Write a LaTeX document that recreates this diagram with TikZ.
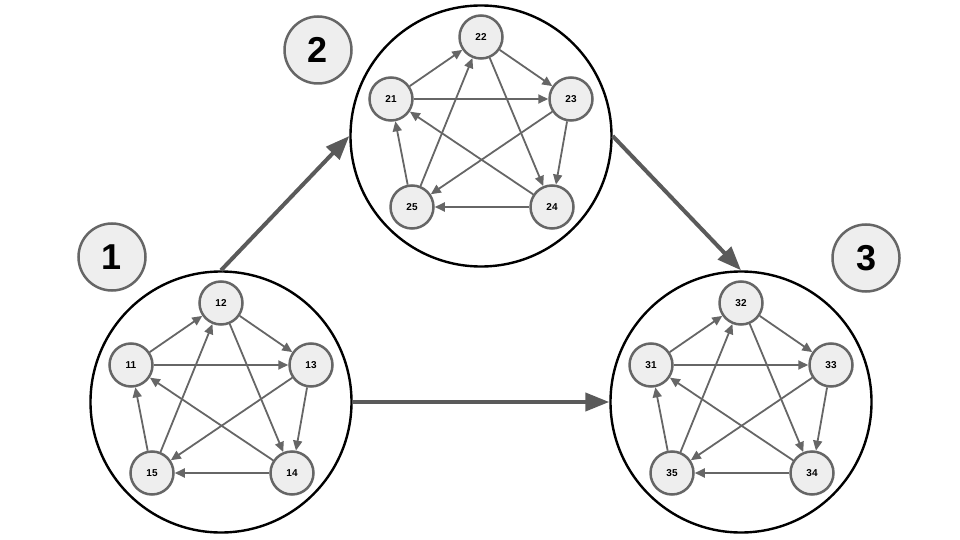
\documentclass[tikz,border=0pt]{standalone}
\usepackage{fontspec}
\setmainfont{Liberation Sans}
\usetikzlibrary{arrows.meta}
\definecolor{nodefill}{HTML}{EEEEEE}
\definecolor{nodeline}{HTML}{666666}
\definecolor{bigarrow}{HTML}{5A5A5A}
\tikzset{
    % node styles
    agent/.style={circle, draw=nodeline, fill=nodefill, line width=2.5pt,
                  minimum size=43pt, inner sep=0pt, font=\fontsize{10}{12}\selectfont\bfseries},
    group/.style={circle, draw=black, line width=2.4pt, minimum size=261pt, inner sep=0pt},
    tag/.style={circle, draw=nodeline, fill=nodefill, line width=2.5pt,
                minimum size=67pt, inner sep=0pt, font=\fontsize{36}{40}\selectfont\bfseries},
    % arrow styles
    edge/.style={-{Triangle[length=10pt,width=9pt]}, draw=nodeline, line width=1.8pt},
    flow/.style={-{Triangle[length=24pt,width=18pt]}, draw=bigarrow, line width=4pt},
}
\begin{document}
\begin{tikzpicture}[x=1pt, y=-1pt]
    \useasboundingbox (0,0) rectangle (960,540);

    % Groups with their five agents
    \foreach \g/\cx/\cy in {1/221/402, 2/481/136, 3/741/402} {
        \node[group] (c\g) at (\cx, \cy) {};
        \foreach \k/\dx/\dy in {1/-90/-37, 2/0/-99, 3/90/-37, 4/71/71, 5/-69/71} {
            \node[agent] (n\g\k) at (\cx+\dx, \cy+\dy) {\g\k};
        }
        % outer ring
        \foreach \a/\b in {1/2, 2/3, 3/4, 4/5, 5/1} {
            \draw[edge] (n\g\a) -- (n\g\b);
        }
        % inner star
        \foreach \a/\b in {1/3, 3/5, 5/2, 2/4, 4/1} {
            \draw[edge] (n\g\a) -- (n\g\b);
        }
    }

    % Group numbers
    \node[tag] (t1) at (112, 257) {1};
    \node[tag] (t2) at (318, 50) {2};
    \node[tag] (t3) at (866, 258) {3};

    % Transitions
    \draw[flow] (c1.north) -- (c2.west);
    \draw[flow] (c2.east) -- (c3.north);
    \draw[flow] (c1.east) -- (c3.west);
\end{tikzpicture}
\end{document}
